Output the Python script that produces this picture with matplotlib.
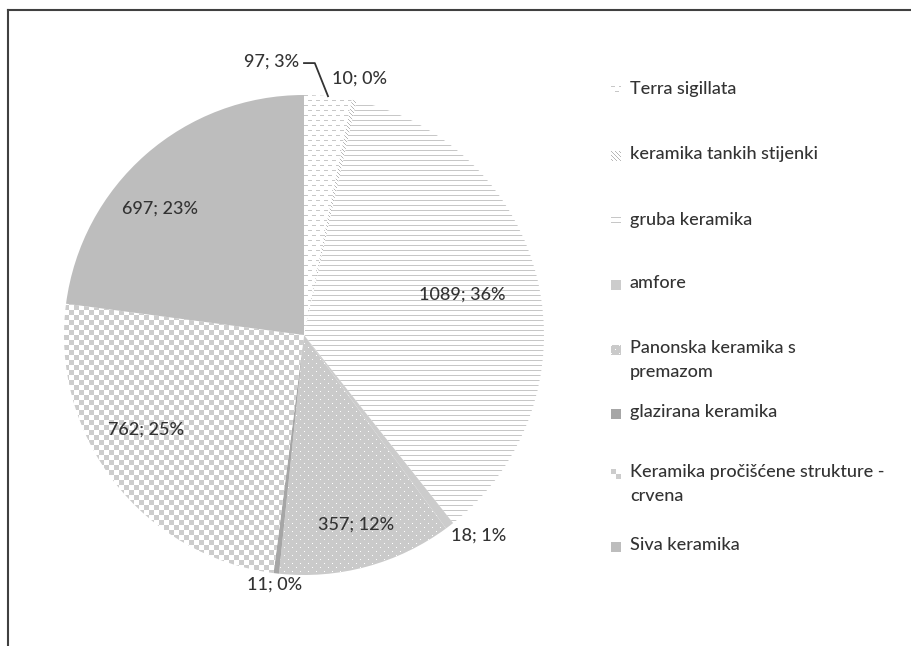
import matplotlib
matplotlib.use('Agg')
import matplotlib.pyplot as plt
import numpy as np
from matplotlib.lines import Line2D

# Keramički nalazi po vrstama
kategorije = ['Terra sigillata', 'keramika tankih stijenki', 'gruba keramika', 'amfore',
              'Panonska keramika s\npremazom', 'glazirana keramika',
              'Keramika pročišćene strukture -\ncrvena', 'Siva keramika']
komada = [97, 10, 1089, 18, 357, 11, 762, 697]
uzorci = ['crtice', 'dijagonale', 'linije', 'puna_svijetla',
          'tocke', 'puna_tamna', 'sah', 'puna']

ukupno = sum(komada)
postotci = [round(v / ukupno * 100) for v in komada]

SIVA_TXT = '#333333'
FONT = 'Lato'
VEL = 13
TEZINA = 'medium'


def uzorak(vrsta, h, w):
    """Vrati sivu sliku (0-1) s uzorkom ispune."""
    yy, xx = np.mgrid[0:h, 0:w]
    img = np.ones((h, w))
    if vrsta == 'crtice':
        red = yy // 5
        maska = (yy % 5 == 0) & (((xx + (red % 2) * 4) % 8) < 4)
        img[maska] = 0.78
    elif vrsta == 'dijagonale':
        img[(xx - yy) % 4 == 0] = 0.72
    elif vrsta == 'linije':
        img[yy % 5 == 0] = 0.78
    elif vrsta == 'tocke':
        img[:] = 0.79
        maska = ((yy % 8 == 0) & (xx % 8 == 0)) | ((yy % 8 == 4) & (xx % 8 == 4))
        img[maska] = 1.0
    elif vrsta == 'sah':
        maska = ((yy // 5 + xx // 5) % 2) == 0
        img[maska] = 0.80
    elif vrsta == 'puna':
        img[:] = 0.74
    elif vrsta == 'puna_svijetla':
        img[:] = 0.80
    elif vrsta == 'puna_tamna':
        img[:] = 0.65
    return img


W, H = 912, 646
fig = plt.figure(figsize=(W / 100, H / 100), dpi=100)

# pie: centar (304, 335) px, radijus 240 px
cx, cy, r = 304, 335, 240
ax = fig.add_axes([(cx - r) / W, (H - cy - r) / H, 2 * r / W, 2 * r / H])

wedges, _ = ax.pie(komada, startangle=90, counterclock=False, radius=1,
                   wedgeprops=dict(linewidth=0, edgecolor='none'))

N = 2 * r
for wedge, vrsta in zip(wedges, uzorci):
    wedge.set_facecolor('none')
    im = ax.imshow(uzorak(vrsta, N, N), cmap='gray', vmin=0, vmax=1,
                   extent=(-1, 1, -1, 1), interpolation='nearest', zorder=0)
    im.set_clip_path(wedge)

ax.set_xlim(-1, 1)
ax.set_ylim(-1, 1)
ax.axis('off')

# oznake podataka (x, y u jedinicama radijusa, poravnanje)
polozaj_oznaka = [(-0.02, 1.14, 'right'), (0.115, 1.07, 'left'), (0.661, 0.167, 'center'),
                  (0.728, -0.837, 'center'), (0.218, -0.791, 'center'),
                  (-0.121, -1.042, 'center'), (-0.657, -0.393, 'center'),
                  (-0.598, 0.527, 'center')]

for v, p, (x, y, ha) in zip(komada, postotci, polozaj_oznaka):
    ax.text(x, y, f'{v}; {p}%', ha=ha, va='center', fontsize=VEL, fontweight=TEZINA,
            family=FONT, color=SIVA_TXT, clip_on=False)

# vodilica za Terra sigillata
w0 = wedges[0]
kut = np.deg2rad((w0.theta1 + w0.theta2) / 2)
ax.add_line(Line2D([0.0, 0.045, np.cos(kut) * 1.0], [1.133, 1.133, np.sin(kut) * 1.0],
                   color=SIVA_TXT, lw=1.3, clip_on=False))

# legenda
legenda_y = [91, 156, 222, 285, 350, 414, 474, 547]
for naziv, vrsta, y in zip(kategorije, uzorci, legenda_y):
    fig.text(630 / W, 1 - (y - 10) / H, naziv, ha='left', va='top', fontsize=VEL,
             fontweight=TEZINA, family=FONT, color=SIVA_TXT, linespacing=1.6)
    m = fig.add_axes([611 / W, 1 - (y + 5) / H, 10 / W, 10 / H])
    m.imshow(uzorak(vrsta, 10, 10), cmap='gray', vmin=0, vmax=1, interpolation='nearest')
    m.axis('off')

# okvir grafikona
fig.add_artist(Line2D([8.5 / W, 8.5 / W], [0, 1 - 9.5 / H], transform=fig.transFigure,
                      color='#404040', lw=1.5))
fig.add_artist(Line2D([8.5 / W, 1], [1 - 9.5 / H, 1 - 9.5 / H], transform=fig.transFigure,
                      color='#404040', lw=1.5))

fig.savefig('out.png', dpi=100)
